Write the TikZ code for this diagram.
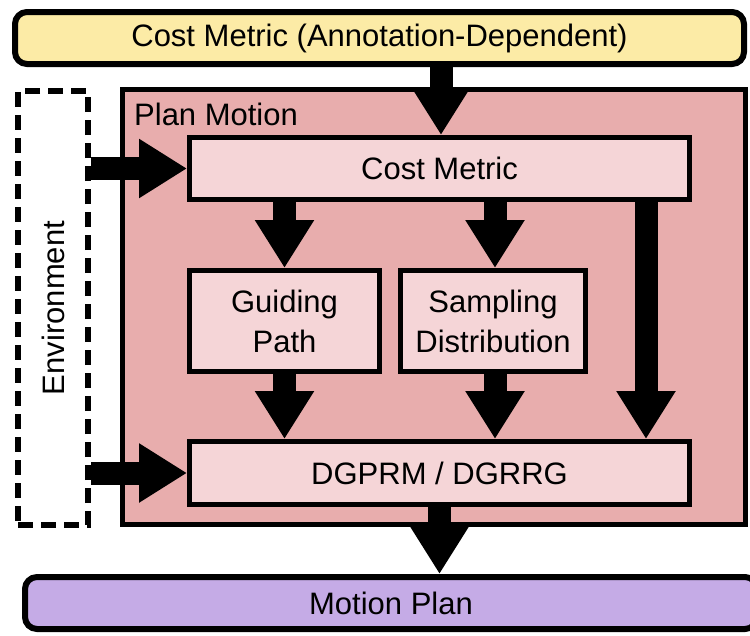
\documentclass[tikz,border=0pt]{standalone}
\usepackage{fontspec}
\setmainfont{Liberation Sans}
\usetikzlibrary{arrows.meta,shadows}
\definecolor{ylw}{HTML}{FCEBA6}
\definecolor{planpink}{HTML}{E8ADAD}
\definecolor{innerpink}{HTML}{F5D5D7}
\definecolor{purp}{HTML}{C5ABE6}
\tikzset{
  txt/.style={font=\fontsize{31}{40}\selectfont},
  outerbox/.style={draw=black, line width=6pt, rounded corners=12pt, txt, inner sep=0pt,
    drop shadow={shadow xshift=1.5pt, shadow yshift=-2.5pt, opacity=0.25, fill=black!60}},
  innerbox/.style={draw=black, line width=5pt, fill=innerpink, txt, inner sep=0pt, align=center},
  fat/.style={line width=23pt, -{Triangle[width=56pt,length=48pt]}, draw=black}
}
\begin{document}
\begin{tikzpicture}[x=1pt,y=-1pt]
\useasboundingbox (0,0) rectangle (750,635);
\fill[white] (0,0) rectangle (750,635);
% containers
\node[outerbox, fill=ylw, minimum width=729pt, minimum height=52pt] (ylwbox) at (379.5,38) {Cost Metric (Annotation-Dependent)};
\node[draw=black, line width=5pt, fill=planpink, inner sep=0pt, minimum width=623pt, minimum height=435pt,
  drop shadow={shadow xshift=1.5pt, shadow yshift=-2.5pt, opacity=0.25, fill=black!60}] (plan) at (434,307) {};
\node[txt, anchor=west, inner sep=0pt] (planlbl) at (134,114) {Plan Motion};
\node[draw=black, line width=6pt, dash pattern=on 15pt off 8pt, fill=white, inner sep=0pt,
  minimum width=70pt, minimum height=434pt] (env) at (53,308) {};
\node[txt, rotate=90, inner sep=0pt] (envlbl) at (53,308) {Environment};
\node[outerbox, fill=purp, minimum width=732pt, minimum height=52pt] (mp) at (391,603) {Motion Plan};
% inner boxes
\node[innerbox, minimum width=500pt, minimum height=62pt] (cm) at (439.5,168.5) {Cost Metric};
\node[innerbox, minimum width=190pt, minimum height=101pt] (gp) at (284.5,321) {Guiding\\Path};
\node[innerbox, minimum width=185pt, minimum height=101pt] (sd) at (493,321) {Sampling\\Distribution};
\node[innerbox, minimum width=500pt, minimum height=63pt] (dg) at (439.5,473) {DGPRM / DGRRG};
% helper coordinates
\coordinate (xtop) at (441,0);
\coordinate (xright) at (646,0);
\coordinate (xsd) at (495,0);
% connectors
\draw[fat] (xtop |- ylwbox.south) -- (xtop |- cm.north);
\draw[fat] (env.east |- cm.west) -- (cm.west);
\draw[fat] (env.east |- dg.west) -- (dg.west);
\draw[fat] (gp.north |- cm.south) -- (gp.north);
\draw[fat] (xsd |- cm.south) -- (xsd |- sd.north);
\draw[fat] (xright |- cm.south) -- (xright |- dg.north);
\draw[fat] (gp.south) -- (gp.south |- dg.north);
\draw[fat] (xsd |- sd.south) -- (xsd |- dg.north);
\draw[fat] (dg.south) -- (dg.south |- mp.north);
\end{tikzpicture}
\end{document}
